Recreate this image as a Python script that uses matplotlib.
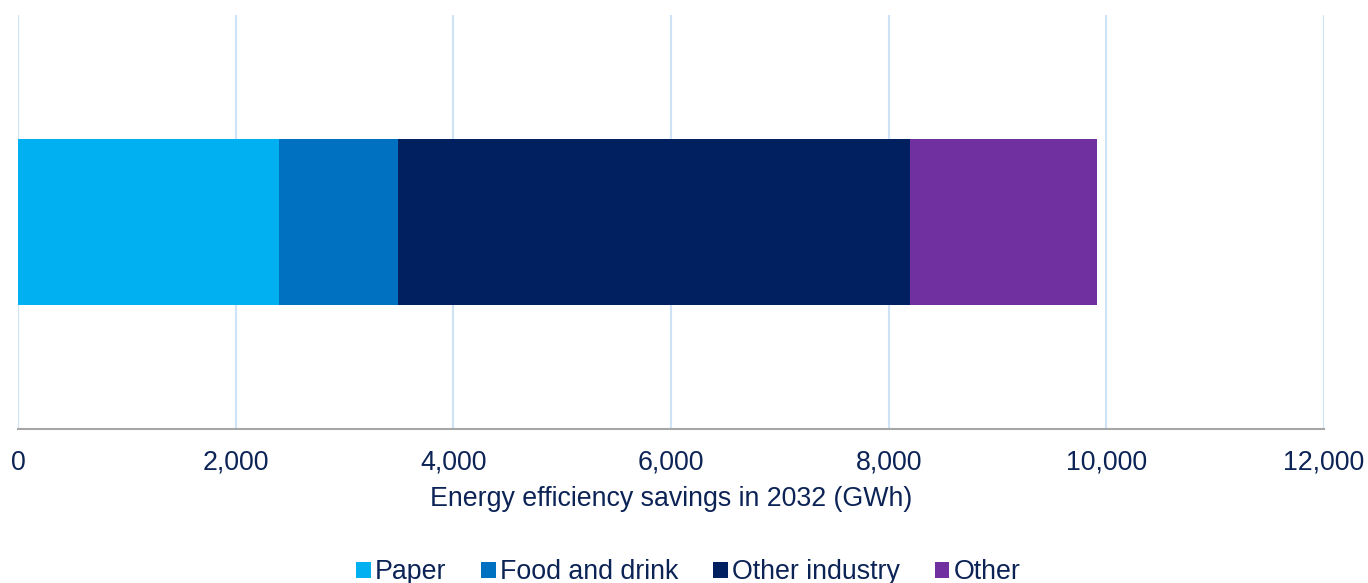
import matplotlib.pyplot as plt

plt.rcParams['font.family'] = ['Liberation Sans', 'DejaVu Sans']

# Data
categories = ['Paper', 'Food and drink', 'Other industry', 'Other']
savings = [2400, 1090, 4710, 1710]
colors = ['#00B0F0', '#0070C0', '#002060', '#7030A0']
xticks = [0, 2000, 4000, 6000, 8000, 10000, 12000]

text_color = '#0C2356'

fig = plt.figure(figsize=(13.68, 5.83), dpi=100)
ax = fig.add_axes([18 / 1368, 1 - 429 / 583, (1324 - 18) / 1368, (429 - 15) / 583])

left = 0
for cat, val, col in zip(categories, savings, colors):
    ax.barh(0, val, left=left, height=0.4, color=col, label=cat, zorder=3)
    left += val

ax.set_xlim(0, 12000)
ax.set_ylim(-0.5, 0.5)
ax.set_xticks(xticks)
ax.set_xticklabels([f'{t:,}' for t in xticks])
ax.set_yticks([])
ax.tick_params(axis='x', length=0, pad=15, labelsize=19.3, labelcolor=text_color)
ax.grid(axis='x', color='#CFE3F7', linewidth=1.5, zorder=0)
for s in ['top', 'right', 'left']:
    ax.spines[s].set_visible(False)
ax.spines['bottom'].set_color('#A6A6A6')
ax.spines['bottom'].set_linewidth(1.5)
ax.spines['bottom'].set_zorder(4)

ax.set_xlabel('Energy efficiency savings in 2032 (GWh)', fontsize=19.3, color=text_color, labelpad=7)

fig.legend(loc='lower center', bbox_to_anchor=(0.503, -0.045), ncol=4, frameon=False,
           fontsize=19.3, handlelength=0.55, handleheight=0.55, handletextpad=0.15,
           columnspacing=1.3, labelcolor=text_color)

fig.savefig('out.png', dpi=100)
